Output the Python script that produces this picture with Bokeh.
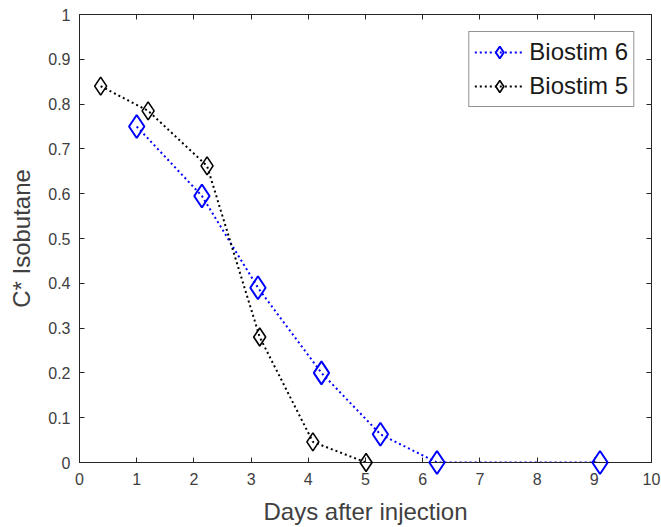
from bokeh.plotting import figure
from bokeh.models import Range1d, LinearAxis, FixedTicker, Legend, LegendItem
from bokeh.embed import file_html
from bokeh.resources import INLINE

# ---- data ----
days_b6 = [1.0, 2.14, 3.12, 4.23, 5.26, 6.25, 9.1]
c_b6 = [0.75, 0.595, 0.39, 0.20, 0.063, 0.0, 0.0]
days_b5 = [0.37, 1.2, 2.23, 3.15, 4.08, 5.01]
c_b5 = [0.84, 0.785, 0.662, 0.28, 0.046, 0.0]

x_ticks = list(range(0, 11))
x_tick_labels = [str(v) for v in x_ticks]
y_ticks = [0, 0.1, 0.2, 0.3, 0.4, 0.5, 0.6, 0.7, 0.8, 0.9, 1]
y_tick_labels = ["0", "0.1", "0.2", "0.3", "0.4", "0.5", "0.6", "0.7", "0.8", "0.9", "1"]

series_names = ["Biostim 6", "Biostim 5"]
x_label = "Days after injection"
y_label = "C* Isobutane"

FONT = "Liberation Sans"
AX = "#262626"
LBL = "#404040"

p = figure(frame_width=572, frame_height=448, output_backend="svg", toolbar_location=None,
           x_range=Range1d(0, 10), y_range=Range1d(0, 1),
           min_border_left=79, min_border_right=10, min_border_top=14, min_border_bottom=65)
p.xgrid.visible = False
p.ygrid.visible = False
p.outline_line_color = AX
p.outline_line_width = 1
p.background_fill_color = "white"
p.border_fill_color = "white"

for ax, ticks, labels in ((p.xaxis[0], x_ticks, x_tick_labels), (p.yaxis[0], y_ticks, y_tick_labels)):
    ax.ticker = FixedTicker(ticks=ticks)
    ax.major_label_overrides = {t: l for t, l in zip(ticks, labels)}
    ax.major_tick_in = 5
    ax.major_tick_out = 0
    ax.minor_tick_line_color = None
    ax.axis_line_color = AX
    ax.major_tick_line_color = AX
    ax.major_label_text_font = FONT
    ax.major_label_text_font_size = "16px"
    ax.major_label_text_color = LBL
    ax.axis_label_text_font = FONT
    ax.axis_label_text_font_size = "24px"
    ax.axis_label_text_font_style = "normal"
    ax.axis_label_text_color = LBL

p.xaxis[0].axis_label = x_label
p.yaxis[0].axis_label = y_label
p.xaxis[0].major_label_standoff = 10
p.yaxis[0].major_label_standoff = 9
p.xaxis[0].axis_label_standoff = 10
p.yaxis[0].axis_label_standoff = 10

# box ticks on top and right
for side, ticks in (("above", x_ticks), ("right", y_ticks)):
    a = LinearAxis(ticker=FixedTicker(ticks=ticks),
                   major_label_overrides={t: "" for t in ticks},
                   major_tick_in=5, major_tick_out=0, minor_tick_line_color=None,
                   axis_line_color=AX, major_tick_line_color=AX,
                   major_label_standoff=0, major_label_text_font_size="1px")
    p.add_layout(a, side)

l6 = p.line(days_b6, c_b6, line_color="blue", line_width=2, line_dash="2 3")
m6 = p.scatter(days_b6, c_b6, marker="diamond", size=23, line_color="blue",
               line_width=2, fill_alpha=0, level="overlay")
l5 = p.line(days_b5, c_b5, line_color="black", line_width=2, line_dash="2 3")
m5 = p.scatter(days_b5, c_b5, marker="diamond", size=18, line_color="black",
               line_width=1.6, fill_alpha=0, level="overlay")

legend = Legend(items=[LegendItem(label=series_names[0], renderers=[l6, m6]),
                       LegendItem(label=series_names[1], renderers=[l5, m5])],
                location="top_right", margin=17, padding=5, spacing=4,
                glyph_width=50, glyph_height=30, label_height=30, label_standoff=5,
                label_text_font=FONT, label_text_font_size="24px", label_text_color="#1a1a1a",
                border_line_color=AX, border_line_width=1, background_fill_color="white",
                background_fill_alpha=1)
p.add_layout(legend, "center")

open("out.html", "w").write(file_html(p, INLINE))
